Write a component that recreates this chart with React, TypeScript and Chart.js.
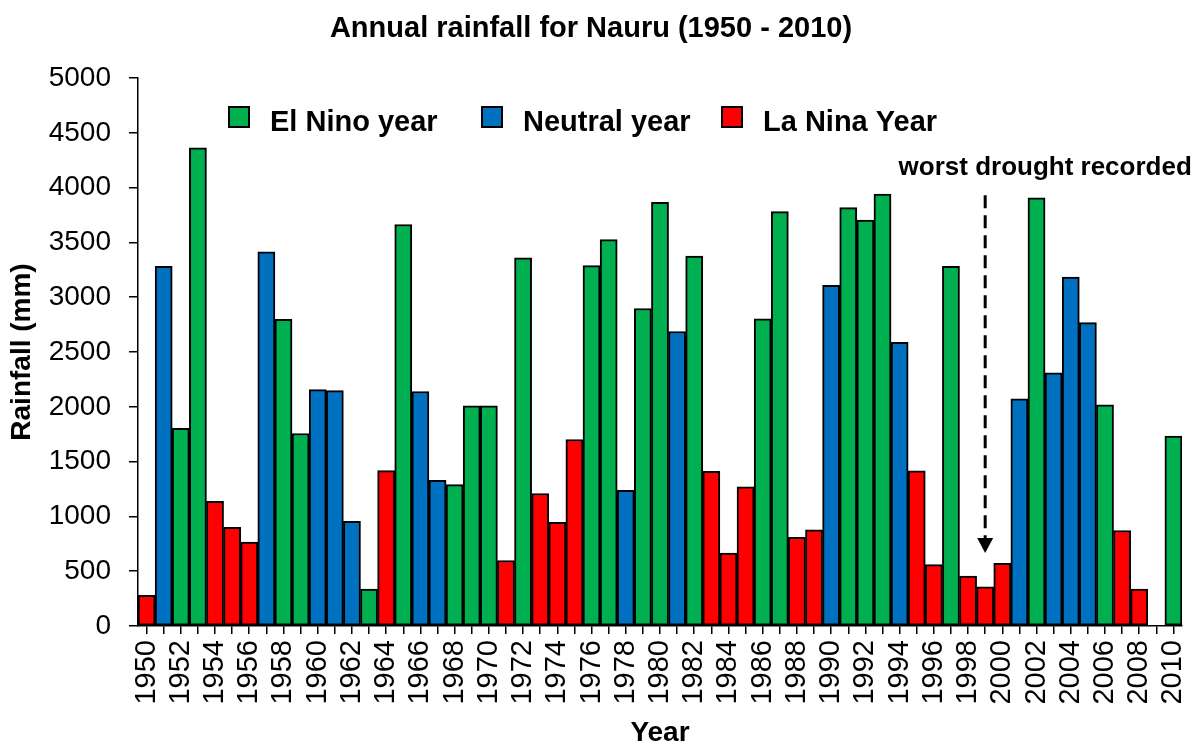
import React, { useEffect, useRef } from "react";
import { Chart, registerables } from "chart.js";

Chart.register(...registerables);

const FONT = "'Liberation Sans', Arial, Helvetica, sans-serif";

const years = [
  "1950", "1951", "1952", "1953", "1954", "1955", "1956", "1957", "1958", "1959",
  "1960", "1961", "1962", "1963", "1964", "1965", "1966", "1967", "1968", "1969",
  "1970", "1971", "1972", "1973", "1974", "1975", "1976", "1977", "1978", "1979",
  "1980", "1981", "1982", "1983", "1984", "1985", "1986", "1987", "1988", "1989",
  "1990", "1991", "1992", "1993", "1994", "1995", "1996", "1997", "1998", "1999",
  "2000", "2001", "2002", "2003", "2004", "2005", "2006", "2007", "2008", "2009",
  "2010",
];

const rainfall: (number | null)[] = [
  280, 3282, 1803, 4362, 1138, 901, 766, 3413, 2799, 1756,
  2157, 2147, 955, 338, 1418, 3663, 2140, 1330, 1290, 2009,
  2009, 598, 3359, 1209, 945, 1702, 3288, 3525, 1239, 2897,
  3866, 2687, 3376, 1411, 665, 1269, 2802, 3781, 810, 878,
  3109, 3818, 3704, 3940, 2589, 1415, 560, 3282, 456, 358,
  571, 2073, 3906, 2309, 3184, 2768, 2019, 871, 338, null,
  1732,
];

// E = El Nino, N = Neutral, L = La Nina, "-" = no data
const phase = [
  "L", "N", "E", "E", "L", "L", "L", "N", "E", "E",
  "N", "N", "N", "E", "L", "E", "N", "N", "E", "E",
  "E", "L", "E", "L", "L", "L", "E", "E", "N", "E",
  "E", "N", "E", "L", "L", "L", "E", "E", "L", "L",
  "N", "E", "E", "E", "N", "L", "L", "E", "L", "L",
  "L", "N", "E", "N", "N", "N", "E", "L", "L", "-",
  "E",
];

const legendLabels = ["El Nino year", "Neutral year", "La Nina Year"];
const legendKeys = ["E", "N", "L"];

const title = "Annual rainfall for Nauru (1950 - 2010)";
const xTitle = "Year";
const yTitle = "Rainfall (mm)";
const yTicks = { min: 0, max: 5000, step: 500 };

const droughtYear = "1999";
const droughtText = "worst drought recorded";

const COLORS: Record<string, string> = {
  E: "#00B050",
  N: "#0070C0",
  L: "#FF0000",
  "-": "#FFFFFF",
};

const legendPlugin = {
  id: "insideLegend",
  afterDraw(chart: any) {
    const ctx = chart.ctx;
    const boxX = [229, 482, 722];
    const textX = [270, 523, 763];
    ctx.save();
    legendLabels.forEach((lab, i) => {
      ctx.fillStyle = COLORS[legendKeys[i]];
      ctx.fillRect(boxX[i], 107, 20, 20);
      ctx.lineWidth = 2;
      ctx.strokeStyle = "#000";
      ctx.strokeRect(boxX[i], 107, 20, 20);
      ctx.fillStyle = "#000";
      ctx.font = `bold 29px ${FONT}`;
      ctx.textAlign = "left";
      ctx.textBaseline = "alphabetic";
      ctx.fillText(lab, textX[i], 131);
    });
    ctx.restore();
  },
};

const annotationPlugin = {
  id: "droughtAnnotation",
  afterDraw(chart: any) {
    const ctx = chart.ctx;
    const xs = chart.scales.x;
    const ys = chart.scales.y;
    const x = xs.getPixelForValue(years.indexOf(droughtYear));
    const yTop = ys.getPixelForValue(3930);
    const yTip = ys.getPixelForValue(665);
    ctx.save();
    ctx.strokeStyle = "#000";
    ctx.lineWidth = 3;
    ctx.setLineDash([13, 7]);
    ctx.beginPath();
    ctx.moveTo(x, yTop);
    ctx.lineTo(x, yTip - 15);
    ctx.stroke();
    ctx.setLineDash([]);
    ctx.fillStyle = "#000";
    ctx.beginPath();
    ctx.moveTo(x - 8, yTip - 15);
    ctx.lineTo(x + 8, yTip - 15);
    ctx.lineTo(x, yTip);
    ctx.closePath();
    ctx.fill();
    ctx.font = `bold 26px ${FONT}`;
    ctx.textAlign = "center";
    ctx.textBaseline = "middle";
    ctx.fillText(droughtText, x + 60, ys.getPixelForValue(4180));
    ctx.restore();
  },
};

export default function App() {
  const ref = useRef<HTMLCanvasElement | null>(null);

  useEffect(() => {
    document.body.style.margin = "0";
    if (!ref.current) return;
    Chart.defaults.font.family = FONT;
    const chart = new Chart(ref.current, {
      type: "bar",
      data: {
        labels: years,
        datasets: [
          {
            data: rainfall,
            backgroundColor: phase.map((p) => COLORS[p]),
            borderColor: "#000",
            borderWidth: 2,
            borderSkipped: false,
            barPercentage: 1,
            categoryPercentage: 1,
          },
        ],
      },
      options: {
        responsive: false,
        animation: false,
        layout: { padding: { left: 0, right: 14, top: 0, bottom: 0 } },
        plugins: {
          legend: { display: false },
          tooltip: { enabled: false },
          title: {
            display: true,
            text: title,
            color: "#000",
            font: { family: FONT, size: 29, weight: "bold", lineHeight: 1.2 },
            padding: { top: 12, bottom: 31.2 },
          },
        },
        scales: {
          x: {
            grid: {
              display: true,
              drawOnChartArea: false,
              offset: false,
              tickLength: 8,
              color: "#000",
              lineWidth: 1.5,
            },
            border: { display: true, color: "#000", width: 1.5 },
            ticks: {
              autoSkip: false,
              maxRotation: 90,
              minRotation: 90,
              padding: 6,
              color: "#000",
              font: { family: FONT, size: 29 },
              callback: (_v: any, i: number) => (i % 2 === 0 ? years[i] : ""),
            },
            title: {
              display: true,
              text: xTitle,
              color: "#000",
              font: { family: FONT, size: 28, weight: "bold", lineHeight: 0.8 },
              padding: 0,
            },
            afterFit: (s: any) => {
              s.height = 118;
              s.paddingLeft = 0;
              s.paddingRight = 0;
            },
          },
          y: {
            min: yTicks.min,
            max: yTicks.max,
            grid: {
              display: true,
              drawOnChartArea: false,
              tickLength: 9,
              color: "#000",
              lineWidth: 1.5,
            },
            border: { display: true, color: "#000", width: 1.5 },
            ticks: {
              stepSize: yTicks.step,
              padding: 18,
              color: "#000",
              font: { family: FONT, size: 28 },
              callback: (v: any) => String(v),
            },
            title: {
              display: true,
              text: yTitle,
              color: "#000",
              font: { family: FONT, size: 28, weight: "bold", lineHeight: 0.8 },
              padding: { top: 11, bottom: 0 },
            },
            afterFit: (s: any) => {
              s.width = 138;
              s.paddingTop = 0;
              s.paddingBottom = 0;
            },
          },
        },
      },
      plugins: [legendPlugin, annotationPlugin],
    });
    return () => chart.destroy();
  }, []);

  return (
    <div style={{ width: 1196, height: 744 }}>
      <canvas ref={ref} width={1196} height={744} />
    </div>
  );
}
